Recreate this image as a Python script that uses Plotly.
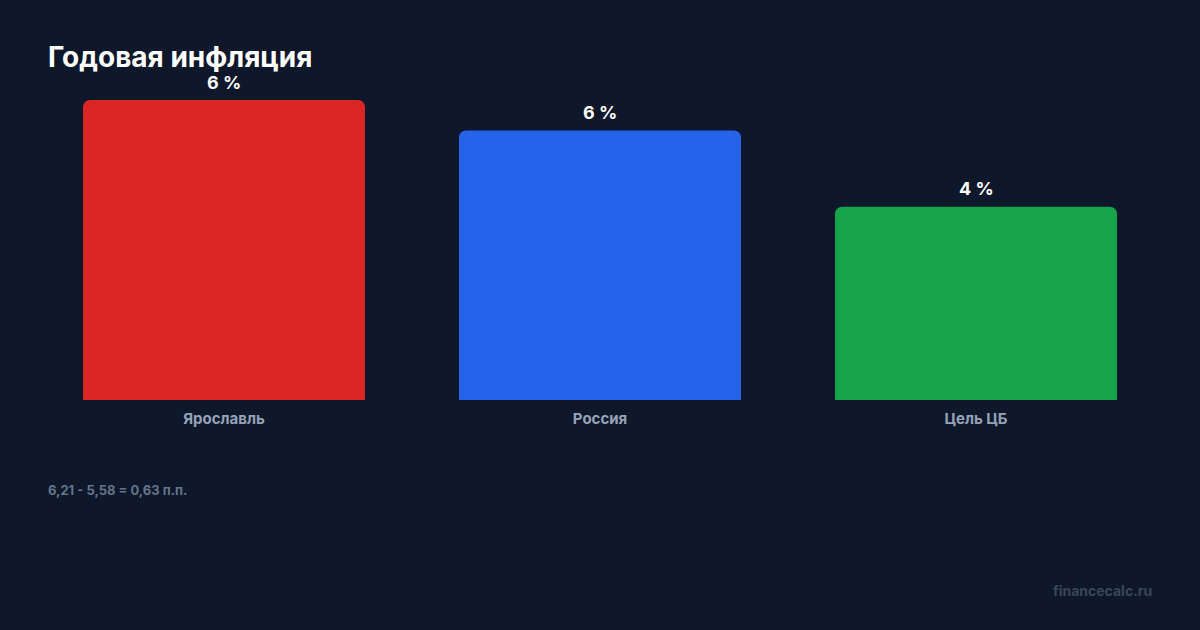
import plotly.graph_objects as go

categories = ["Ярославль", "Россия", "Цель ЦБ"]
values = [6.21, 5.58, 4.0]
colors = ["#dc2626", "#2563eb", "#16a34a"]
title_text = "Годовая инфляция"
footnote = "6,21 - 5,58 = 0,63 п.п."
source = "financecalc.ru"

W, H = 1200, 630
L, R, T, B = 36, 36, 100, 230
pw, ph = W - L - R, H - T - B

def px_x(x):
    return (x - L) / pw

def px_y(y):
    return (H - B - y) / ph

fig = go.Figure(go.Bar(
    x=categories, y=values,
    marker=dict(color=colors, line=dict(width=0), cornerradius=7),
    hoverinfo="skip",
))

annotations = [
    dict(text=f"{round(v)} %", x=c, y=v, xref="x", yref="y",
         xanchor="center", yanchor="middle", yshift=18, showarrow=False,
         font=dict(family="Inter", size=18, color="#ffffff", weight="bold"))
    for c, v in zip(categories, values)
]
annotations += [
    dict(text=footnote, xref="paper", yref="paper", x=px_x(46), y=px_y(490),
         xanchor="left", yanchor="middle", showarrow=False,
         font=dict(family="Inter", size=13, color="#64748b", weight="bold")),
    dict(text=source, xref="paper", yref="paper", x=px_x(1154), y=px_y(590),
         xanchor="right", yanchor="middle", showarrow=False,
         font=dict(family="Inter", size=14, color="#3a4659", weight="bold")),
]

fig.update_layout(
    width=W, height=H,
    margin=dict(l=L, r=R, t=T, b=B),
    paper_bgcolor="#0f172a", plot_bgcolor="#0f172a",
    bargap=0.25,
    showlegend=False,
    font=dict(family="Inter"),
    title=dict(text=title_text, x=48 / W, xanchor="left", xref="container",
               y=1 - 57 / H, yanchor="middle", yref="container",
               font=dict(family="Inter", size=28, color="#ffffff", weight="bold")),
    xaxis=dict(showgrid=False, zeroline=False, showline=False, ticks="",
               tickfont=dict(family="Inter", size=15, color="#94a3b8", weight="bold"),
               ticklabelstandoff=8),
    yaxis=dict(range=[0, 6.21], visible=False, showgrid=False, zeroline=False),
    annotations=annotations,
)

fig.write_html("out.html")
